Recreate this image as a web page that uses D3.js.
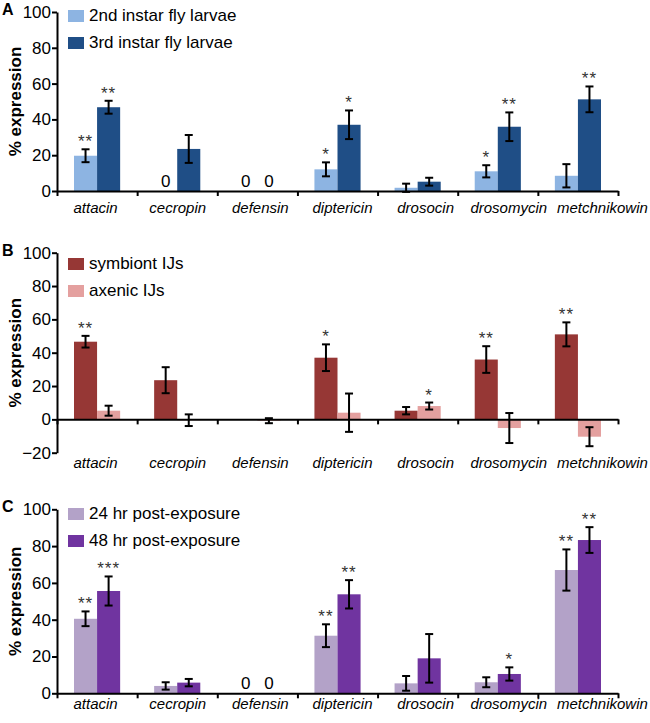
<!DOCTYPE html>
<html>
<head>
<meta charset="utf-8">
<script src="https://cdnjs.cloudflare.com/ajax/libs/d3/7.8.5/d3.min.js"></script>
<style>
  body { margin: 0; background: #fff; }
  svg text { font-family: "Liberation Sans", Arial, sans-serif; }
</style>
</head>
<body>
<svg id="chart" width="650" height="723"></svg>
<script>
// genes on the x axis, shared by all three panels
var genes = ["attacin", "cecropin", "defensin", "diptericin", "drosocin", "drosomycin", "metchnikowin"];

// panel A - fly larvae
var larva2 = [19.7, 0, 0, 12.1, 1.8, 11.0, 8.5];
var larva2Err = [3.6, 0, 0, 3.9, 2.3, 3.4, 6.5];
var larva2Note = ["**", "0", "0", "*", "", "*", ""];
var larva3 = [46.8, 23.5, 0, 37.0, 5.2, 35.9, 51.2];
var larva3Err = [3.6, 7.8, 0, 8.0, 2.2, 8.0, 7.2];
var larva3Note = ["**", "", "0", "*", "", "**", "**"];

// panel B - symbiont vs axenic IJs
var symbiont = [46.6, 23.5, 0, 37.0, 5.2, 35.9, 51.0];
var symbiontErr = [3.5, 7.8, 0, 8.0, 2.2, 8.0, 7.2];
var symbiontNote = ["**", "", "", "*", "", "**", "**"];
var axenic = [5.2, -0.5, -0.8, 4.0, 8.0, -5.2, -10.4];
var axenicErr = [3.0, 3.5, 1.5, 11.5, 2.1, 9.0, 5.7];
var axenicNote = ["", "", "", "", "*", "", ""];

// panel C - time after exposure
var hr24 = [40.5, 4.0, 0, 31.3, 5.4, 6.0, 67.0];
var hr24Err = [4.0, 2.0, 0, 6.2, 4.0, 2.7, 11.2];
var hr24Note = ["**", "", "0", "**", "", "", "**"];
var hr48 = [55.6, 5.8, 0, 53.8, 19.0, 10.5, 83.3];
var hr48Err = [7.9, 2.0, 0, 7.7, 13.2, 3.6, 7.0];
var hr48Note = ["***", "", "0", "**", "", "*", "**"];

var ticksPos = [0, 20, 40, 60, 80, 100];
var ticksNeg = [-20, 0, 20, 40, 60, 80, 100];

var panels = [
  { letter: "A", top: 12, bottom: 191, domain: [0, 100], ticks: ticksPos, labelY: 213, legendY: 21,
    series: [
      { name: "2nd instar fly larvae", color: "#8db4e2", vals: larva2, err: larva2Err, note: larva2Note },
      { name: "3rd instar fly larvae", color: "#1f4e86", vals: larva3, err: larva3Err, note: larva3Note }
    ] },
  { letter: "B", top: 252.7, bottom: 452.7, domain: [-20, 100], ticks: ticksNeg, labelY: 468, legendY: 269,
    series: [
      { name: "symbiont IJs", color: "#963735", vals: symbiont, err: symbiontErr, note: symbiontNote },
      { name: "axenic IJs", color: "#e4a09f", vals: axenic, err: axenicErr, note: axenicNote }
    ] },
  { letter: "C", top: 509.3, bottom: 693.3, domain: [0, 100], ticks: ticksPos, labelY: 709, legendY: 519,
    series: [
      { name: "24 hr post-exposure", color: "#b3a2c8", vals: hr24, err: hr24Err, note: hr24Note },
      { name: "48 hr post-exposure", color: "#7034a0", vals: hr48, err: hr48Err, note: hr48Note }
    ] }
];

var left = 57, right = 618;
// gene labels drift right so the long names don't collide
var labelShift = [-1.5, 0.5, 3, 5, 8, 11, 24.5];
var svg = d3.select("#chart");

var x = d3.scaleBand().domain(genes).range([left, right]).padding(0);
var xs = d3.scaleBand().domain([0, 1]).range([17, x.bandwidth() - 17]).padding(0);
// category boundaries for the x ticks
var bounds = d3.scaleLinear().domain([0, genes.length]).range([left, right]);

panels.forEach(function(p) {
  var y = d3.scaleLinear().domain(p.domain).range([p.bottom, p.top]);
  var g = svg.append("g");
  var y0 = y(0);

  // bars
  p.series.forEach(function(s, si) {
    g.selectAll(null)
      .data(s.vals)
      .enter().append("rect")
        .attr("x", function(d, i) { return x(genes[i]) + xs(si); })
        .attr("width", xs.bandwidth())
        .attr("y", function(d) { return Math.min(y(d), y0); })
        .attr("height", function(d) { return Math.abs(y(d) - y0); })
        .attr("fill", s.color);
  });

  // error bars and notes
  p.series.forEach(function(s, si) {
    s.vals.forEach(function(v, i) {
      var cx = x(genes[i]) + xs(si) + xs.bandwidth() / 2;
      var e = s.err[i];
      if (e > 0) {
        var eg = g.append("g").attr("stroke", "#000").attr("stroke-width", 2);
        eg.append("line").attr("x1", cx).attr("x2", cx).attr("y1", y(v + e)).attr("y2", y(v - e));
        eg.append("line").attr("x1", cx - 4).attr("x2", cx + 4).attr("y1", y(v + e)).attr("y2", y(v + e));
        eg.append("line").attr("x1", cx - 4).attr("x2", cx + 4).attr("y1", y(v - e)).attr("y2", y(v - e));
      }
      var n = s.note[i];
      if (n) {
        var isZero = n === "0";
        g.append("text")
          .attr("x", cx)
          .attr("y", isZero ? y0 - 4 : y(v + e) - 2)
          .attr("text-anchor", "middle")
          .attr("font-size", 17)
          .attr("letter-spacing", isZero ? 0 : 1)
          .attr("fill", isZero ? "#000" : "#333")
          .text(n);
      }
    });
  });

  // y axis
  var ya = g.append("g")
    .attr("transform", "translate(" + left + ",0)")
    .call(d3.axisLeft(y).tickValues(p.ticks).tickSize(5).tickSizeOuter(0).tickPadding(1));
  ya.select(".domain").attr("stroke-width", 2);
  ya.selectAll(".tick line").attr("stroke-width", 2);
  ya.selectAll("text").attr("font-size", 17).attr("fill", "#000").attr("font-family", "Liberation Sans, Arial, sans-serif");

  // x axis line at zero with boundary ticks
  var xa = g.append("g")
    .attr("transform", "translate(0," + y0 + ")")
    .call(d3.axisBottom(bounds).ticks(genes.length).tickSize(5).tickSizeOuter(0).tickFormat(""));
  xa.select(".domain").attr("stroke-width", 2);
  xa.selectAll(".tick line").attr("stroke-width", 2);

  // gene labels
  g.selectAll(null)
    .data(genes)
    .enter().append("text")
      .attr("x", function(d, i) { return x(d) + x.bandwidth() / 2 + labelShift[i]; })
      .attr("y", p.labelY)
      .attr("text-anchor", "middle")
      .attr("font-size", 15)
      .attr("font-style", "italic")
      .text(function(d) { return d; });

  // y title
  g.append("text")
    .attr("transform", "translate(21," + ((p.top + p.bottom) / 2) + ") rotate(-90)")
    .attr("text-anchor", "middle")
    .attr("font-size", 17)
    .attr("font-weight", "bold")
    .text("% expression");

  // panel letter
  g.append("text")
    .attr("x", 2)
    .attr("y", p.top + 3)
    .attr("font-size", 16)
    .attr("font-weight", "bold")
    .text(p.letter);

  // legend
  p.series.forEach(function(s, si) {
    var ly = p.legendY + si * 27;
    g.append("rect")
      .attr("x", 68).attr("y", ly - 11)
      .attr("width", 16).attr("height", 12)
      .attr("fill", s.color);
    g.append("text")
      .attr("x", 89).attr("y", ly)
      .attr("font-size", 17)
      .text(s.name);
  });
});
</script>
</body>
</html>
